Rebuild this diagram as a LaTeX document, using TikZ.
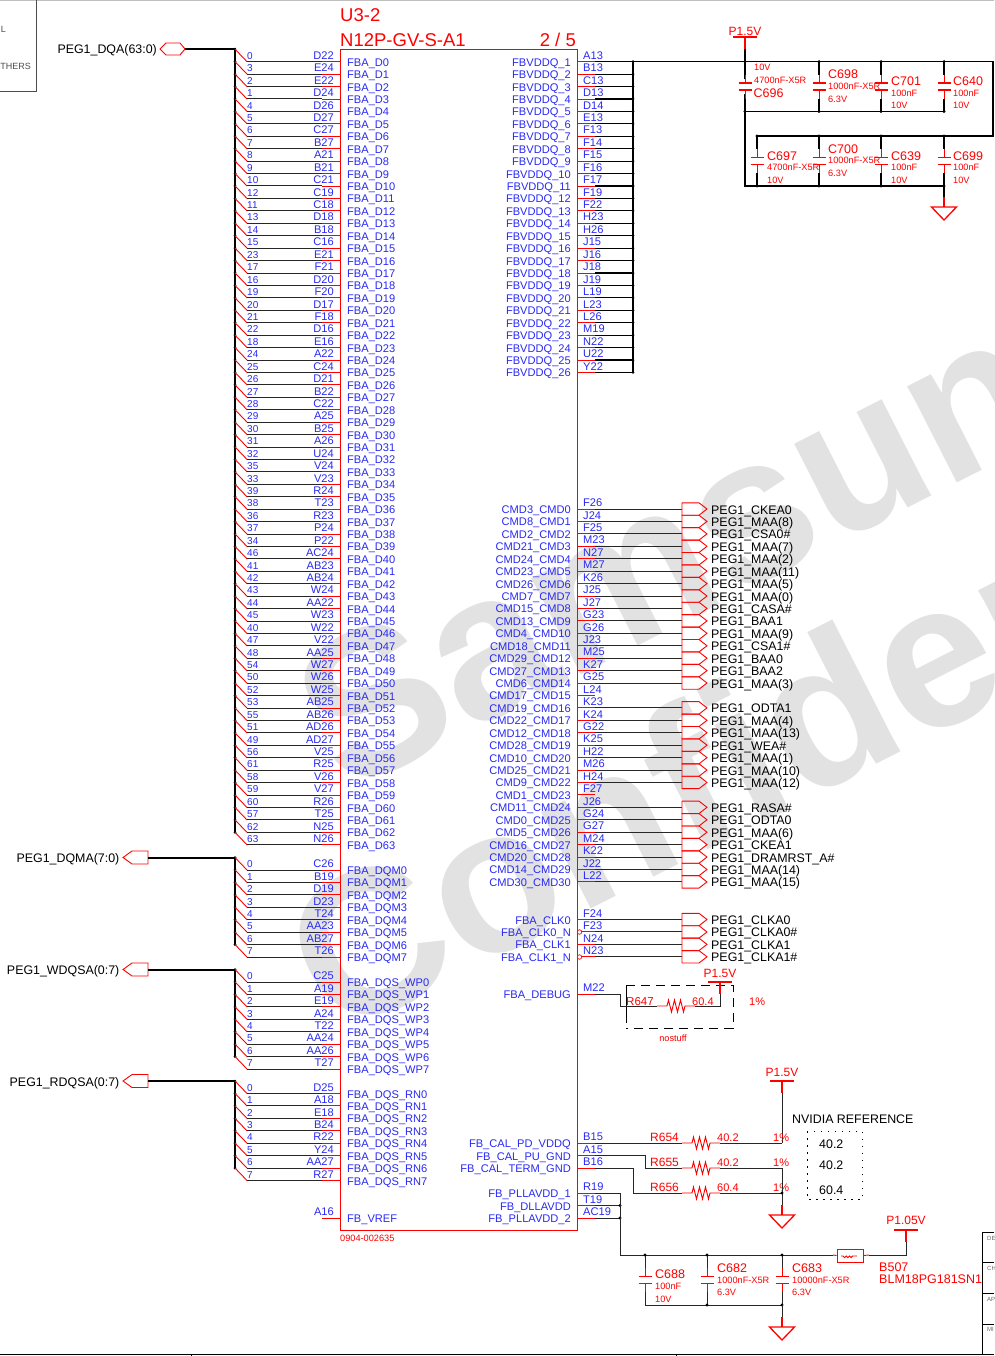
\documentclass[tikz,border=0pt]{standalone}
\usepackage{fontspec}
\setmainfont{Liberation Sans}
\usepackage{xcolor}
\usepackage{tikz}
\usetikzlibrary{calc, positioning}
\definecolor{netblue}{RGB}{40,40,245}
\definecolor{wmgray}{RGB}{226,226,226}
\tikzset{
    wire/.style={draw=black!85, line width=1pt},
    rail/.style={draw=black, line width=1.4pt},
    stub/.style={draw=red, line width=0.9pt},
    busline/.style={draw=black, line width=2pt},
    pinname/.style={font=\fontsize{11.1}{12}\selectfont, text=netblue, inner sep=0pt},
    bitnum/.style={font=\fontsize{10}{12}\selectfont, text=netblue, inner sep=0pt},
    netlabel/.style={font=\fontsize{12.4}{14}\selectfont, text=black, inner sep=0pt},
    partbig/.style={font=\fontsize{12.5}{14}\selectfont, text=red, inner sep=0pt, anchor=base west},
    partsmall/.style={font=\fontsize{9.2}{11}\selectfont, text=red, inner sep=0pt, anchor=base west},
    dot/.style={circle, fill=black, inner sep=0pt, minimum size=3.4pt},
    capv/.pic={
        \draw[stub] (0,-12) -- (0,-3.5) (0,3.5) -- (0,12);
        \draw[red, line width=1.5pt] (-6.5,-3.5) -- (6.5,-3.5) (-6.5,3.5) -- (6.5,3.5);
    },
    resistor/.pic={
        \draw[stub] (-19,0) -- (-9,0) -- (-7.5,-6) -- (-4.5,6) -- (-1.5,-6) -- (1.5,6) -- (4.5,-6) -- (7.5,6) -- (9,0) -- (19,0);
    },
    gndsym/.pic={
        \draw[stub, line width=1.3pt] (0,-10) -- (0,0);
        \draw[red, line width=1.3pt] (-12.5,0) -- (12.5,0) -- (0,13) -- cycle;
    },
    powerbar/.pic={
        \draw[red, line width=1.6pt] (-12,0) -- (12,0);
        \draw[stub, line width=1.3pt] (0,0) -- (0,12);
    }
}

\begin{document}
\begin{tikzpicture}[x=1pt, y=-1pt]
    \useasboundingbox (0,0) rectangle (994,1356);
    % Watermark
    \begin{scope}
        \clip (0,0) rectangle (994,1356);
        \node[rotate=27, anchor=base west, text=wmgray, inner sep=0pt, font=\fontsize{205}{220}\selectfont\bfseries] (wmone) at (345,795) {Samsung};
        \node[rotate=27, anchor=base west, text=wmgray, inner sep=0pt, font=\fontsize{205}{220}\selectfont\bfseries] (wmtwo) at (335,1040) {Confidential};
    \end{scope}

    % Cropped neighbours
    \begin{scope}
        \clip (0,0) rectangle (994,1356);
        \draw[black!25] (0,0.5) -- (994,0.5);
        \draw[black!70, line width=0.8pt] (36,0) -- (36,91) -- (0,91);
        \node[font=\fontsize{9}{10}\selectfont\rmfamily, text=black!70, anchor=base east, inner sep=0pt] (othertop) at (6,33) {L};
        \node[font=\fontsize{9}{10}\selectfont\rmfamily, text=black!70, anchor=base east, inner sep=0pt] (otherbot) at (31,69.5) {OTHERS};
        \draw[black, line width=0.8pt] (994,1232) -- (982,1232) -- (982,1354) (982,1262) -- (994,1262) (982,1293) -- (994,1293) (982,1324) -- (994,1324);
        \foreach \txt/\ypos [count=\i] in {DE/1240,CH/1270,AP/1301,MI/1331} {
            \node[font=\fontsize{6}{7}\selectfont, text=black!60, anchor=base west, inner sep=0pt] (title\i) at (987,\ypos) {\txt};
        }
        \draw[black, line width=0.9pt] (0,1354.5) -- (994,1354.5);
        \draw[black, line width=0.9pt] (191,1354.5) -- (191,1356) (676,1354.5) -- (676,1356);
    \end{scope}

    % Chip
    \node[draw=red, line width=0.9pt, inner sep=0pt, minimum width=237pt, minimum height=1180.5pt] (chip) at (458.5,639.75) {};
    \node[font=\fontsize{18.5}{20}\selectfont, text=red, anchor=base west, inner sep=0pt] (refdes) at (340,21.5) {U3-2};
    \node[font=\fontsize{18.5}{20}\selectfont, text=red, anchor=base west, inner sep=0pt] (partno) at (340,46.5) {N12P-GV-S-A1};
    \node[font=\fontsize{18.5}{20}\selectfont, text=red, anchor=base east, inner sep=0pt] (sheet) at (576,46.5) {2 / 5};
    \node[partsmall] (partcode) at (340,1241) {0904-002635};

    % Data bus
    \node[netlabel, anchor=base east] (dqalabel) at (157,54) {PEG1\_DQA(63:0)};
    \draw[red, line width=0.9pt] (160,49) -- (166,43) -- (180,43) -- (185,49) -- (180,55) -- (166,55) -- cycle;
    \coordinate (dqaport) at (185,49);
    \coordinate (dqatop) at (235,49);
    \coordinate (dqaend) at (235,832.5);
    \draw[busline] (dqaport) -- (dqatop) -- (dqaend);
    \foreach \bit/\pin [count=\i from 0] in {0/D22,3/E24,2/E22,1/D24,4/D26,5/D27,6/C27,7/B27,8/A21,9/B21,10/C21,12/C19,11/C18,13/D18,14/B18,15/C16,23/E21,17/F21,16/D20,19/F20,20/D17,21/F18,22/D16,18/E16,24/A22,25/C24,26/D21,27/B22,28/C22,29/A25,30/B25,31/A26,32/U24,35/V24,33/V23,39/R24,38/T23,36/R23,37/P24,34/P22,46/AC24,41/AB23,42/AB24,43/W24,44/AA22,45/W23,40/W22,47/V22,48/AA25,54/W27,50/W26,52/W25,53/AB25,55/AB26,51/AD26,49/AD27,56/V25,61/R25,58/V26,59/V27,60/R26,57/T25,62/N25,63/N26} {
        \pgfmathsetmacro{\ypos}{61.7+12.43*\i}
        \coordinate (dqtap\i) at (235,\ypos-12.5);
        \coordinate (dqin\i) at (247,\ypos);
        \coordinate (dqstub\i) at (322,\ypos);
        \node[dot, minimum size=3pt] (dqdot\i) at (dqtap\i) {};
        \draw[stub] (dqtap\i) -- (dqin\i);
        \draw[wire] (dqin\i) -- (dqstub\i);
        \draw[stub] (dqstub\i) -- (dqstub\i -| chip.west);
        \node[bitnum, anchor=base west] (dqbit\i) at (247,\ypos-2.3) {\bit};
        \node[pinname, anchor=base east] (dqpin\i) at (334,\ypos-2.3) {\pin};
        \node[pinname, anchor=base west] (dqname\i) at (347,\ypos+4.5) {FBA\_D\i};
    }

    % Strobe and mask buses
    \foreach \grp/\txt/\ystart/\prefix/\pinlist in {
        m/PEG1\_DQMA(7:0)/870/FBA\_DQM/{C26,B19,D19,D23,T24,AA23,AB27,T26},
        w/PEG1\_WDQSA(0:7)/982/FBA\_DQS\_WP/{C25,A19,E19,A24,T22,AA24,AA26,T27},
        r/PEG1\_RDQSA(0:7)/1093.5/FBA\_DQS\_RN/{D25,A18,E18,B24,R22,Y24,AA27,R27}} {
        \pgfmathsetmacro{\ytop}{\ystart-12.5}
        \node[netlabel, anchor=base east] (\grp label) at (119.5,\ytop+5) {\txt};
        \draw[red, line width=0.9pt] (123,\ytop) -- (132,\ytop-6.5) -- (148,\ytop-6.5) -- (148,\ytop+6.5) -- (132,\ytop+6.5) -- cycle;
        \coordinate (\grp port) at (148,\ytop);
        \coordinate (\grp top) at (235,\ytop);
        \coordinate (\grp end) at (235,\ytop+87);
        \draw[busline] (\grp port) -- (\grp top) -- (\grp end);
        \foreach \pin [count=\i from 0] in \pinlist {
            \pgfmathsetmacro{\ypos}{\ystart+12.43*\i}
            \coordinate (\grp tap\i) at (235,\ypos-12.5);
            \coordinate (\grp in\i) at (247,\ypos);
            \coordinate (\grp stub\i) at (322,\ypos);
            \node[dot, minimum size=3pt] (\grp dot\i) at (\grp tap\i) {};
            \draw[stub] (\grp tap\i) -- (\grp in\i);
            \draw[wire] (\grp in\i) -- (\grp stub\i);
            \draw[stub] (\grp stub\i) -- (\grp stub\i -| chip.west);
            \node[bitnum, anchor=base west] (\grp bit\i) at (247,\ypos-2.3) {\i};
            \node[pinname, anchor=base east] (\grp pin\i) at (334,\ypos-2.3) {\pin};
            \node[pinname, anchor=base west] (\grp name\i) at (347,\ypos+4.5) {\prefix\i};
        }
    }

    % VREF
    \coordinate (vrefstub) at (322,1218);
    \draw[stub] (vrefstub) -- (vrefstub -| chip.west);
    \node[pinname, anchor=base east] (vrefpin) at (334,1215.7) {A16};
    \node[pinname, anchor=base west] (vrefname) at (347,1222.5) {FB\_VREF};

    % FBVDDQ pins
    \coordinate (vddqtop) at (633,61.7);
    \coordinate (vddqend) at (633,372.5);
    \draw[rail] (vddqtop) -- (vddqend);
    \foreach \pin [count=\i] in {A13,B13,C13,D13,D14,E13,F13,F14,F15,F16,F17,F19,F22,H23,H26,J15,J16,J18,J19,L19,L23,L26,M19,N22,U22,Y22} {
        \pgfmathsetmacro{\ypos}{61.7+12.43*(\i-1)}
        \coordinate (vstub\i) at (595,\ypos);
        \coordinate (vtap\i) at (633,\ypos);
        \draw[stub] (vstub\i -| chip.east) -- (vstub\i);
        \draw[draw=black, line width=1.1pt] (vstub\i) -- (vtap\i);
        \node[dot, minimum size=3pt] (vdot\i) at (vtap\i) {};
        \node[pinname, anchor=base west] (vpin\i) at (583,\ypos-2.3) {\pin};
        \node[pinname, anchor=base east] (vname\i) at (571,\ypos+4.5) {FBVDDQ\_\i};
    }

    % Decoupling at P1.5V
    \coordinate (railtap) at (745,61.7);
    \coordinate (railend) at (993,61.7);
    \coordinate (railturn) at (993,136);
    \coordinate (rowtwo) at (757,136);
    \coordinate (rowonebot) at (745,111.5);
    \coordinate (rowoneend) at (944,111.5);
    \coordinate (railbot) at (745,186);
    \coordinate (railbotend) at (944,186);
    \draw[rail] (vtap1) -- (railend) -- (railturn) -- (rowtwo) (rowonebot) -- (rowoneend) (railtap) -- (railbot) -- (railbotend);
    \pic at (745,37) {powerbar};
    \draw[rail] (745,49) -- (railtap);
    \node[font=\fontsize{12}{14}\selectfont, text=red, inner sep=0pt] (pwrtop) at (745,31) {P1.5V};
    \foreach \cx/\ytop/\ybot [count=\i] in {745/61.7/111.5,819/61.7/111.5,881/61.7/111.5,944/61.7/111.5,757/136/186,819/136/186,881/136/186,944/136/186} {
        \pgfmathsetmacro{\cy}{(\ytop+\ybot)/2}
        \coordinate (ctop\i) at (\cx,\ytop);
        \coordinate (cbot\i) at (\cx,\ybot);
        \coordinate (cup\i) at (\cx,\cy-12);
        \coordinate (cdn\i) at (\cx,\cy+12);
        \draw[rail] (ctop\i) -- (cup\i) (cdn\i) -- (cbot\i);
        \node[circle, fill=white, inner sep=0pt, minimum size=15pt] (cgap\i) at (\cx,\cy) {};
        \pic at (\cx,\cy) {capv};
        \node[dot] (cdota\i) at (ctop\i) {};
        \node[dot] (cdotb\i) at (cbot\i) {};
    }
    \coordinate (gndtop) at (944,197);
    \draw[rail] (railbotend) -- (gndtop);
    \pic at (944,207) {gndsym};
    \foreach \name/\xp/\yp [count=\i] in {C696/753.5/97.5,C698/828/78.5,C701/891/85.5,C640/953/85.5,C697/767/160.5,C700/828/153.5,C639/891/160.5,C699/953/160.5} {
        \node[partbig] (cname\i) at (\xp,\yp) {\name};
    }
    \foreach \val/\xp/\yp [count=\i] in {10V/754/71,4700nF-X5R/754/84,1000nF-X5R/828/90,6.3V/828/102.5,100nF/891/96.5,10V/891/108.5,100nF/953/96.5,10V/953/108.5,4700nF-X5R/767/171,10V/767/183.5,1000nF-X5R/828/164,6.3V/828/177,100nF/891/170.5,10V/891/183.5,100nF/953/170.5,10V/953/183.5} {
        \node[partsmall] (cval\i) at (\xp,\yp) {\val};
    }

    % Command pins
    \foreach \cmd/\pin [count=\i from 0] in {CMD3\_CMD0/F26,CMD8\_CMD1/J24,CMD2\_CMD2/F25,CMD21\_CMD3/M23,CMD24\_CMD4/N27,CMD23\_CMD5/M27,CMD26\_CMD6/K26,CMD7\_CMD7/J25,CMD15\_CMD8/J27,CMD13\_CMD9/G23,CMD4\_CMD10/G26,CMD18\_CMD11/J23,CMD29\_CMD12/M25,CMD27\_CMD13/K27,CMD6\_CMD14/G25,CMD17\_CMD15/L24,CMD19\_CMD16/K23,CMD22\_CMD17/K24,CMD12\_CMD18/G22,CMD28\_CMD19/K25,CMD10\_CMD20/H22,CMD25\_CMD21/M26,CMD9\_CMD22/H24,CMD1\_CMD23/F27,CMD11\_CMD24/J26,CMD0\_CMD25/G24,CMD5\_CMD26/G27,CMD16\_CMD27/M24,CMD20\_CMD28/K22,CMD14\_CMD29/J22,CMD30\_CMD30/L22} {
        \pgfmathsetmacro{\ypos}{509+12.43*\i}
        \coordinate (mstub\i) at (595,\ypos);
        \draw[stub] (mstub\i -| chip.east) -- (mstub\i);
        \node[pinname, anchor=base west] (mpin\i) at (583,\ypos-2.3) {\pin};
        \node[pinname, anchor=base east] (mname\i) at (571,\ypos+4.5) {\cmd};
    }
    \foreach \port/\row in {CKEA0/0,MAA(8)/1,CSA0\#/2,MAA(7)/3,MAA(2)/4,MAA(11)/5,MAA(5)/6,MAA(0)/7,CASA\#/8,BAA1/9,MAA(9)/10,CSA1\#/11,BAA0/12,BAA2/13,MAA(3)/14,ODTA1/16,MAA(4)/17,MAA(13)/18,WEA\#/19,MAA(1)/20,MAA(10)/21,MAA(12)/22,RASA\#/24,ODTA0/25,MAA(6)/26,CKEA1/27,DRAMRST\_A\#/28,MAA(14)/29,MAA(15)/30} {
        \pgfmathsetmacro{\ypos}{509+12.43*\row}
        \coordinate (mport\row) at (682,\ypos);
        \draw[wire] (mstub\row) -- (mport\row);
        \draw[red, line width=0.9pt] (mport\row) ++(0,-6.2) -- ++(17,0) -- ++(8,6.2) -- ++(-8,6.2) -- ++(-17,0) -- cycle;
        \node[netlabel, anchor=base west] (mlabel\row) at (711,\ypos+5) {PEG1\_\port};
    }

    % Clocks
    \foreach \clk/\pin/\port [count=\i from 0] in {FBA\_CLK0/F24/CLKA0,FBA\_CLK0\_N/F23/CLKA0\#,FBA\_CLK1/N24/CLKA1,FBA\_CLK1\_N/N23/CLKA1\#} {
        \pgfmathsetmacro{\ypos}{919.5+12.43*\i}
        \coordinate (kstub\i) at (595,\ypos);
        \coordinate (kport\i) at (682,\ypos);
        \draw[stub] (kstub\i -| chip.east) -- (kstub\i);
        \draw[wire] (kstub\i) -- (kport\i);
        \draw[red, line width=0.9pt] (kport\i) ++(0,-6.2) -- ++(17,0) -- ++(8,6.2) -- ++(-8,6.2) -- ++(-17,0) -- cycle;
        \node[pinname, anchor=base west] (kpin\i) at (583,\ypos-2.3) {\pin};
        \node[pinname, anchor=base east] (kname\i) at (571,\ypos+4.5) {\clk};
        \node[netlabel, anchor=base west] (klabel\i) at (711,\ypos+5) {PEG1\_\port};
    }
    \node[circle, draw=red, fill=white, line width=0.7pt, inner sep=0pt, minimum size=4.5pt] (bubbleone) at (579.5,932) {};
    \node[circle, draw=red, fill=white, line width=0.7pt, inner sep=0pt, minimum size=4.5pt] (bubbletwo) at (579.5,957) {};

    % Debug strap
    \draw[draw=black, line width=0.9pt, dashed, dash pattern=on 9pt off 6pt] (626,985) -- (733,985) -- (733,1028) -- (626,1028);
    \draw[draw=black, line width=0.9pt] (626,985) -- (626,1023);
    \coordinate (dbgstub) at (595,994);
    \coordinate (dbgdown) at (620,994);
    \coordinate (dbgcorner) at (620,1006);
    \coordinate (dbgleft) at (657,1006);
    \coordinate (dbgright) at (695,1006);
    \coordinate (dbgturn) at (720,1006);
    \coordinate (dbgup) at (720,993);
    \draw[stub] (dbgstub -| chip.east) -- (dbgstub);
    \draw[wire] (dbgstub) -- (dbgdown) -- (dbgcorner) -- (dbgleft) (dbgright) -- (dbgturn) -- (dbgup);
    \pic at (676,1006) {resistor};
    \pic at (720,982) {powerbar};
    \node[pinname, anchor=base west] (dbgpin) at (583,991.7) {M22};
    \node[pinname, anchor=base east] (dbgname) at (571,998.5) {FBA\_DEBUG};
    \node[font=\fontsize{12}{14}\selectfont, text=red, inner sep=0pt] (pwrdbg) at (720,973) {P1.5V};
    \node[font=\fontsize{11.5}{14}\selectfont, text=red, inner sep=0pt, anchor=base west] (rdbgname) at (626,1005) {R647};
    \node[font=\fontsize{11}{14}\selectfont, text=red, inner sep=0pt, anchor=base west] (rdbgval) at (692,1005) {60.4};
    \node[font=\fontsize{11}{14}\selectfont, text=red, inner sep=0pt, anchor=base west] (rdbgtol) at (749,1005) {1\%};
    \node[partsmall, anchor=base] (nostuff) at (673,1041) {nostuff};

    % Calibration resistors
    \pic at (782,1081) {powerbar};
    \node[font=\fontsize{12}{14}\selectfont, text=red, inner sep=0pt] (pwrcal) at (782,1072) {P1.5V};
    \coordinate (calrail) at (782,1093);
    \coordinate (calend) at (782,1143);
    \draw[wire] (calrail) -- (calend);
    \foreach \pin/\name/\rname/\rval/\ypin/\yres/\xturn [count=\i] in {B15/FB\_CAL\_PD\_VDDQ/R654/40.2/1143/1143/620,A15/FB\_CAL\_PU\_GND/R655/40.2/1155.5/1168/645.5,B16/FB\_CAL\_TERM\_GND/R656/60.4/1168/1193/633} {
        \coordinate (cstub\i) at (595,\ypin);
        \coordinate (cturn\i) at (\xturn,\ypin);
        \coordinate (cdown\i) at (\xturn,\yres);
        \coordinate (cin\i) at (682,\yres);
        \coordinate (cout\i) at (720,\yres);
        \coordinate (crail\i) at (782,\yres);
        \draw[stub] (cstub\i -| chip.east) -- (cstub\i);
        \draw[wire] (cstub\i) -- (cturn\i) -- (cdown\i) -- (cin\i) (cout\i) -- (crail\i);
        \pic at (701,\yres) {resistor};
        \node[pinname, anchor=base west] (cpin\i) at (583,\ypin-2.3) {\pin};
        \node[pinname, anchor=base east] (cname\i) at (571,\ypin+4.5) {\name};
        \node[font=\fontsize{12}{14}\selectfont, text=red, inner sep=0pt, anchor=base west] (crefd\i) at (650,\yres-2) {\rname};
        \node[font=\fontsize{11}{14}\selectfont, text=red, inner sep=0pt, anchor=base west] (crval\i) at (717,\yres-2) {\rval};
        \node[font=\fontsize{11}{14}\selectfont, text=red, inner sep=0pt, anchor=base west] (crtol\i) at (773,\yres-2) {1\%};
    }
    \coordinate (calgnd) at (782,1205);
    \draw[wire] (crail2) -- (calgnd);
    \node[dot] (caldot) at (crail3) {};
    \pic at (782,1215) {gndsym};
    \node[netlabel, anchor=base west] (nvref) at (792,1123.5) {NVIDIA REFERENCE};
    \draw[black, line width=0.9pt, dash pattern=on 1.5pt off 5.5pt] (807,1131) rectangle (862,1199);
    \foreach \val/\ypos [count=\i] in {40.2/1144,40.2/1165,60.4/1190} {
        \node[netlabel, anchor=base west] (nvval\i) at (819,\ypos+4.5) {\val};
    }

    % PLL supply
    \foreach \pin/\name/\ypos [count=\i] in {R19/FB\_PLLAVDD\_1/1193,T19/FB\_DLLAVDD/1205.5,AC19/FB\_PLLAVDD\_2/1218} {
        \coordinate (pstub\i) at (595,\ypos);
        \coordinate (ptap\i) at (620,\ypos);
        \draw[stub] (pstub\i -| chip.east) -- (pstub\i);
        \draw[wire] (pstub\i) -- (ptap\i);
        \node[pinname, anchor=base west] (ppin\i) at (583,\ypos-2.3) {\pin};
        \node[pinname, anchor=base east] (pname\i) at (571,\ypos+4.5) {\name};
    }
    \node[dot] (pdotone) at (ptap2) {};
    \node[dot] (pdottwo) at (ptap3) {};
    \coordinate (pcorner) at (620,1255);
    \coordinate (beadleft) at (833,1255);
    \coordinate (beadright) at (869,1255);
    \coordinate (pturn) at (906,1255);
    \coordinate (pup) at (906,1242);
    \draw[wire] (ptap1) -- (pcorner) -- (beadleft) (beadright) -- (pturn) -- (pup);
    \node[draw=red, line width=0.9pt, inner sep=0pt, minimum width=26pt, minimum height=13pt] (bead) at (850,1255.5) {};
    \draw[stub] (beadleft) -- (bead.west) (bead.east) -- (beadright);
    \draw[stub] (841,1256) -- (843,1256) arc (180:0:1.6) arc (180:0:1.6) arc (180:0:1.6) -- (857,1256);
    \pic at (906,1230) {powerbar};
    \node[font=\fontsize{12}{14}\selectfont, text=red, inner sep=0pt] (pwrpll) at (906,1220) {P1.05V};
    \foreach \cx [count=\i] in {645,707,782} {
        \coordinate (ptop\i) at (\cx,1255);
        \coordinate (pbot\i) at (\cx,1305);
        \coordinate (pcup\i) at (\cx,1268);
        \coordinate (pdn\i) at (\cx,1292);
        \draw[wire] (ptop\i) -- (pcup\i) (pdn\i) -- (pbot\i);
        \pic at (\cx,1280) {capv};
        \node[dot] (pcapdot\i) at (ptop\i) {};
    }
    \draw[wire] (pbot1) -- (pbot3);
    \node[dot] (pbotdota) at (pbot2) {};
    \node[dot] (pbotdotb) at (pbot3) {};
    \coordinate (pgndtop) at (782,1317);
    \draw[wire] (pbot3) -- (pgndtop);
    \pic at (782,1327) {gndsym};
    \foreach \name/\xp/\yp [count=\i] in {C688/655/1278.5,C682/717/1272.5,C683/792/1272.5,B507/879/1271.5,BLM18PG181SN1/879/1283.5} {
        \node[partbig] (plname\i) at (\xp,\yp) {\name};
    }
    \foreach \val/\xp/\yp [count=\i] in {100nF/655/1289.5,10V/655/1302.5,1000nF-X5R/717/1283.5,6.3V/717/1295.5,10000nF-X5R/792/1283.5,6.3V/792/1295.5} {
        \node[partsmall] (pval\i) at (\xp,\yp) {\val};
    }
\end{tikzpicture}
\end{document}
